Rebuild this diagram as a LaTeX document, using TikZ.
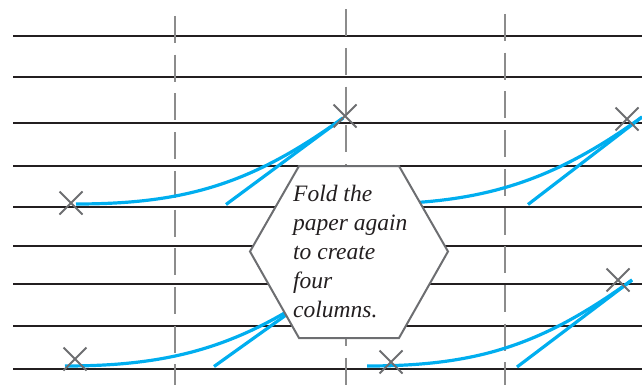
\documentclass[tikz,border=0pt]{standalone}
\usepackage{fontspec}
\setmainfont{Liberation Serif}
\usetikzlibrary{shapes.misc}
\definecolor{rulecol}{HTML}{231F20}
\definecolor{foldcol}{HTML}{8C8C8C}
\definecolor{markcol}{HTML}{6D6E71}
\definecolor{curvecol}{HTML}{00AEEF}
\begin{document}
\begin{tikzpicture}[x=1pt,y=-1pt,
  rule/.style={draw=rulecol,line width=2pt},
  fold/.style={draw=foldcol,line width=1.3pt,dash pattern=on 27pt off 11.7pt},
  xmark/.style={cross out,draw=markcol,line width=2pt,minimum size=21pt,inner sep=0pt},
  bluecurve/.style={draw=curvecol,line width=3.2pt},
  hexline/.style={draw=markcol,line width=2pt,fill=white,line join=miter},
  notetext/.style={font=\itshape\fontsize{23.5}{29}\selectfont,align=left,anchor=west,inner sep=0pt,text=rulecol}]
\useasboundingbox (0,0) rectangle (642,385);
% ruled lines
\foreach \y in {36,77,123,166,207,246,284,326,369}
  \draw[rule] (13,\y) -- (642,\y);
% fold lines
\draw[fold] (175,16) -- (175,385);
\draw[fold] (346,9.3) -- (346,385);
\draw[fold] (505,14) -- (505,385);
% curve end points
\coordinate (a0) at (76,204);  \coordinate (a1) at (343,118); \coordinate (a2) at (226,204.5);
\coordinate (b0) at (370,204); \coordinate (b1) at (642,117); \coordinate (b2) at (528,204.5);
\coordinate (c0) at (65,366);  \coordinate (c1) at (335,280); \coordinate (c2) at (214,366.5);
\coordinate (d0) at (367,366); \coordinate (d1) at (632,280); \coordinate (d2) at (517,367);
% blue curves
\draw[bluecurve] (a0) .. controls +(111,0) and +(-90,65) .. (a1);
\draw[bluecurve] (a2) -- (a1);
\draw[bluecurve] (b0) .. controls +(111,0) and +(-90,65) .. (b1);
\draw[bluecurve] (b2) -- (b1);
\draw[bluecurve] (c0) .. controls +(111,0) and +(-90,65) .. (c1);
\draw[bluecurve] (c2) -- (c1);
\draw[bluecurve] (d0) .. controls +(111,0) and +(-90,65) .. (d1);
\draw[bluecurve] (d2) -- (d1);
% crosses
\node[xmark] (x1) at (71,203) {};
\node[xmark] (x2) at (345,116) {};
\node[xmark] (x3) at (627,119) {};
\node[xmark] (x4) at (75,359) {};
\node[xmark] (x5) at (391,362) {};
\node[xmark] (x6) at (618,280) {};
% hexagon callout
\draw[hexline] (250,251.5) -- (299,166) -- (399,166) -- (448,251.5) -- (399,338) -- (299,338) -- cycle;
\node[notetext] (note) at (293,251.5) {Fold the\\paper again\\to create\\four\\columns.};
\end{tikzpicture}
\end{document}
